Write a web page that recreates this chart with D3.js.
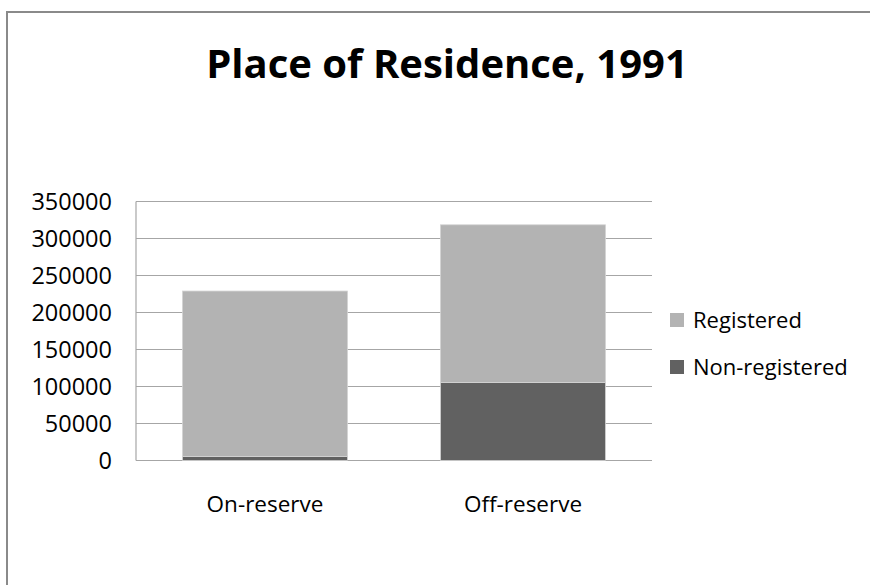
<!DOCTYPE html>
<html>
<head>
<meta charset="utf-8">
<script src="https://cdn.jsdelivr.net/npm/d3@7"></script>
<style>
  body { margin: 0; background: #fff; }
  text { font-family: "Open Sans", "Noto Sans", sans-serif; }
</style>
</head>
<body>
<svg id="chart"></svg>
<script>
// Chart data
const categories = ['On-reserve', 'Off-reserve'];
const seriesNames = ['Non-registered', 'Registered'];
const nonRegistered = [5500, 105500];
const registered = [223500, 213000];
const yTicks = [0, 50000, 100000, 150000, 200000, 250000, 300000, 350000];

const colors = { 'Registered': '#b3b3b3', 'Non-registered': '#616161' };

const width = 870, height = 585;
const margin = { left: 136, right: 218, top: 201.5, bottom: 124.5 };

const svg = d3.select('#chart')
    .attr('width', width)
    .attr('height', height);

// Outer frame of the chart area
svg.append('rect')
    .attr('x', 7).attr('y', 12)
    .attr('width', 880).attr('height', 600)
    .attr('fill', '#fff')
    .attr('stroke', '#8a8a8a')
    .attr('stroke-width', 2);

// Title
svg.append('text')
    .attr('x', 447).attr('y', 77.5)
    .attr('text-anchor', 'middle')
    .style('font-size', '40px')
    .style('font-weight', 'bold')
    .text('Place of Residence, 1991');

const x = d3.scaleBand()
    .domain(categories)
    .range([margin.left, width - margin.right])
    .paddingInner(0.36)
    .paddingOuter(0.18);

const y = d3.scaleLinear()
    .domain([0, 350000])
    .range([height - margin.bottom, margin.top]);

// Gridlines
svg.append('g')
    .selectAll('line')
    .data(yTicks)
    .join('line')
    .attr('x1', margin.left).attr('x2', width - margin.right)
    .attr('y1', d => y(d)).attr('y2', d => y(d))
    .attr('stroke', '#a6a6a6')
    .attr('stroke-width', 1.2);

// Y axis line
svg.append('line')
    .attr('x1', margin.left).attr('x2', margin.left)
    .attr('y1', y(0)).attr('y2', y(350000))
    .attr('stroke', '#a6a6a6')
    .attr('stroke-width', 1.2);

// Y tick labels
const yAxis = d3.axisLeft(y).tickValues(yTicks).tickSize(0).tickPadding(24).tickFormat(d3.format('d'));
const yg = svg.append('g').attr('transform', `translate(${margin.left},0)`).call(yAxis);
yg.select('.domain').remove();
yg.selectAll('text')
    .style('font-family', '"Open Sans", sans-serif')
    .style('font-size', '23.5px')
    .attr('dy', '0.36em')
    .attr('fill', '#000');

// Stacked bars
const rows = categories.map((c, i) => ({
    category: c,
    'Non-registered': nonRegistered[i],
    'Registered': registered[i]
}));
const stacked = d3.stack().keys(seriesNames)(rows);

svg.append('g')
    .selectAll('g')
    .data(stacked)
    .join('g')
    .attr('fill', d => colors[d.key])
    .selectAll('rect')
    .data(d => d)
    .join('rect')
    .attr('x', d => x(d.data.category))
    .attr('width', x.bandwidth())
    .attr('y', d => y(d[1]))
    .attr('height', d => y(d[0]) - y(d[1]))
    .attr('stroke', '#d4d4d4')
    .attr('stroke-width', 0.8);

// Category labels
svg.append('g')
    .selectAll('text')
    .data(categories)
    .join('text')
    .attr('x', d => x(d) + x.bandwidth() / 2)
    .attr('y', 512)
    .attr('text-anchor', 'middle')
    .style('font-size', '22.5px')
    .text(d => d);

// Legend
const legendItems = ['Registered', 'Non-registered'];
const legend = svg.append('g')
    .selectAll('g')
    .data(legendItems)
    .join('g')
    .attr('transform', (d, i) => `translate(670, ${320 + i * 47})`);

legend.append('rect')
    .attr('x', 0).attr('y', -7)
    .attr('width', 14).attr('height', 14)
    .attr('fill', d => colors[d]);

legend.append('text')
    .attr('x', 23).attr('y', 7.5)
    .style('font-size', '22px')
    .text(d => d);
</script>
</body>
</html>
